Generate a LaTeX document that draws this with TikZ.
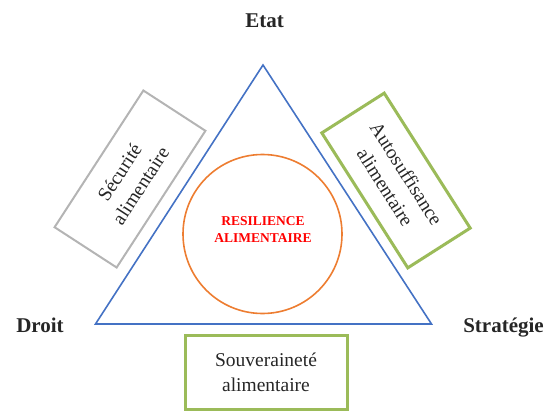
\documentclass[tikz,border=0pt]{standalone}
\usepackage{fontspec}
\setmainfont{Liberation Serif}
\definecolor{triblue}{HTML}{4472C4}
\definecolor{circorange}{HTML}{ED7D31}
\definecolor{boxgreen}{HTML}{9BBB59}
\definecolor{boxgray}{HTML}{B4B4B4}
\tikzset{
  corner/.style={font=\fontsize{21}{25}\selectfont\bfseries, text=black!85, anchor=base, inner sep=0pt},
  conceptbox/.style={draw, align=center, font=\fontsize{19.5}{25}\selectfont, text=black!85, inner sep=0pt},
  greenbox/.style={conceptbox, draw=boxgreen, line width=3pt},
  graybox/.style={conceptbox, draw=boxgray, line width=2pt},
}
\begin{document}
\begin{tikzpicture}[x=1pt,y=-1pt]
\useasboundingbox (0,0) rectangle (551,412);
% triangle
\coordinate (top) at (263,65);
\coordinate (bl) at (95.5,324);
\coordinate (br) at (431.5,324);
\draw[triblue, line width=1.6pt, line join=miter] (top) -- (br) -- (bl) -- cycle;
% circle
\node (res) [circle, draw=circorange, line width=1.6pt, minimum size=159pt, inner sep=0pt] at (262.5,234) {};
\node (restext) [align=center, text=red, font=\fontsize{13.5}{17}\selectfont\bfseries, inner sep=0pt] at (263,230) {RESILIENCE\\ALIMENTAIRE};
% corner labels
\node (etat) [corner] at (264.5,28) {Etat};
\node (droit) [corner] at (40,332) {Droit};
\node (strat) [corner] at (503.5,332) {Stratégie};
% boxes
\node (secu) [graybox, rotate=57, minimum width=163pt, minimum height=74pt] at (130,179) {Sécurité\\alimentaire};
\node (auto) [greenbox, rotate=-57.5, minimum width=160pt, minimum height=74pt] at (396,180.5) {Autosuffisance\\alimentaire};
\node (souv) [greenbox, minimum width=162pt, minimum height=74pt] at (266,372.5) {Souveraineté\\alimentaire};
\end{tikzpicture}
\end{document}
